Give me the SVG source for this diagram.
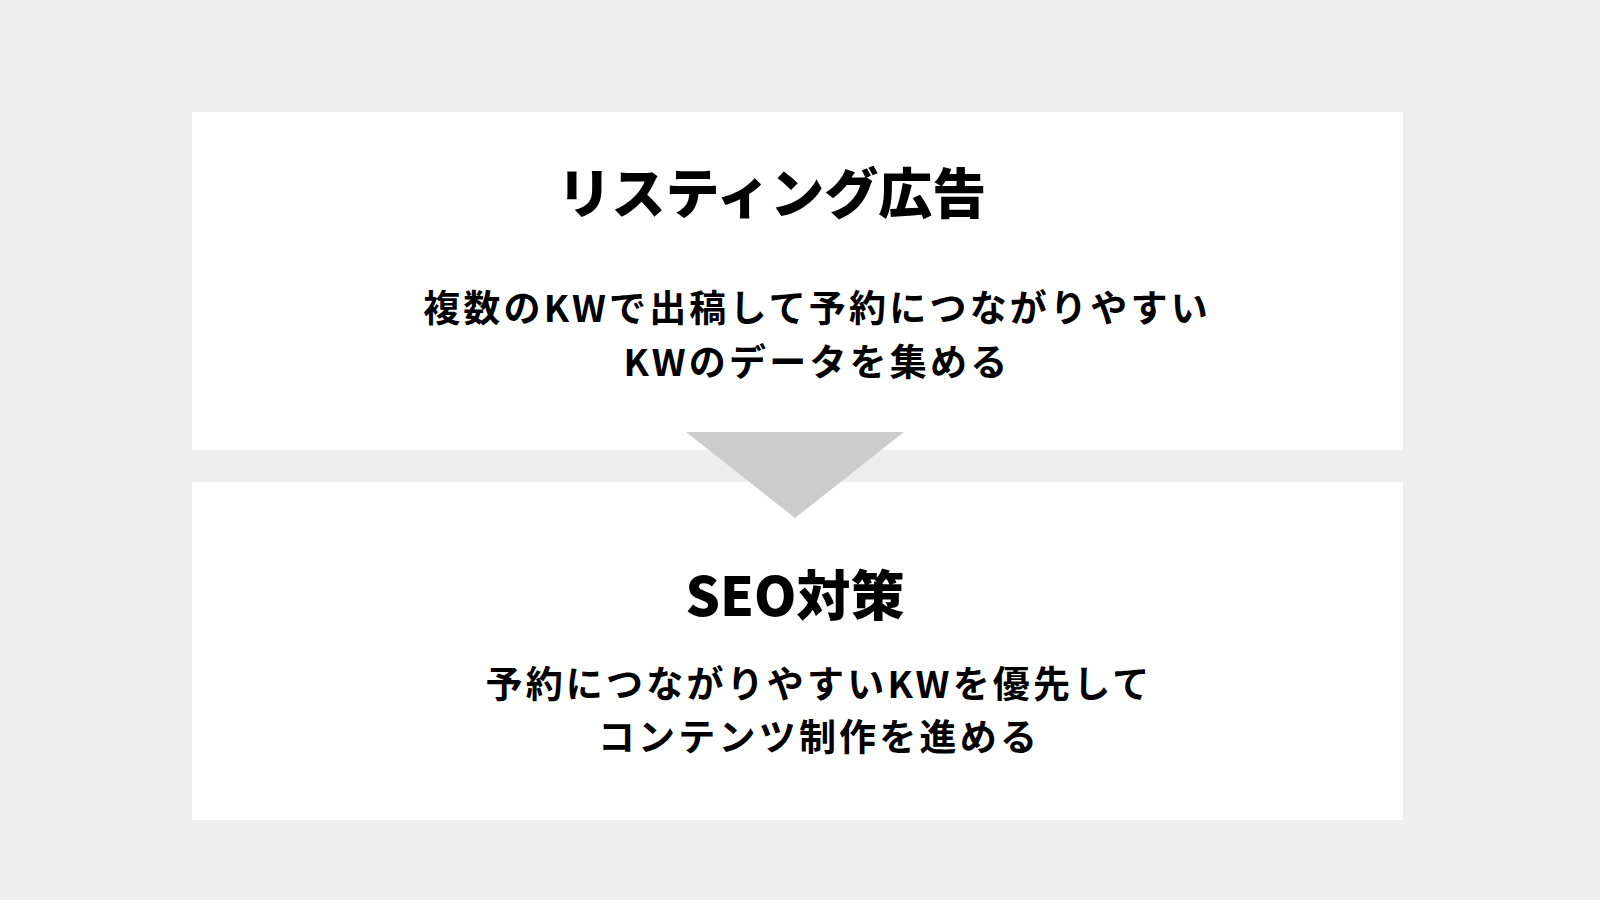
<svg xmlns="http://www.w3.org/2000/svg" width="1600" height="900" viewBox="0 0 1600 900">
<style>
.box{fill:#ffffff}
.title{font-family:"Noto Sans CJK JP","Noto Sans",sans-serif;font-weight:900;font-size:54px;fill:#000;text-anchor:middle}
.body{font-family:"Noto Sans CJK JP","Noto Sans",sans-serif;font-weight:700;font-size:37px;fill:#000;text-anchor:middle;letter-spacing:3.2px}
.arrow{fill:#cccccc}
</style>
<rect width="1600" height="900" fill="#eeeeee"/>
<g id="node-listing">
<rect class="box" x="192" y="112" width="1211" height="338"/>
<text class="title" x="772" y="214">リスティング広告</text>
<text class="body" x="817" y="322">複数のKWで出稿して予約につながりやすい</text>
<text class="body" x="817" y="376">KWのデータを集める</text>
</g>
<g id="node-seo">
<rect class="box" x="192" y="482" width="1211" height="338"/>
<text class="title" x="795" y="616">SEO対策</text>
<text class="body" x="819" y="698">予約につながりやすいKWを優先して</text>
<text class="body" x="819" y="751">コンテンツ制作を進める</text>
</g>
<g id="connectors">
<polygon class="arrow" points="686,432 904,432 795,518"/>
</g>
</svg>
